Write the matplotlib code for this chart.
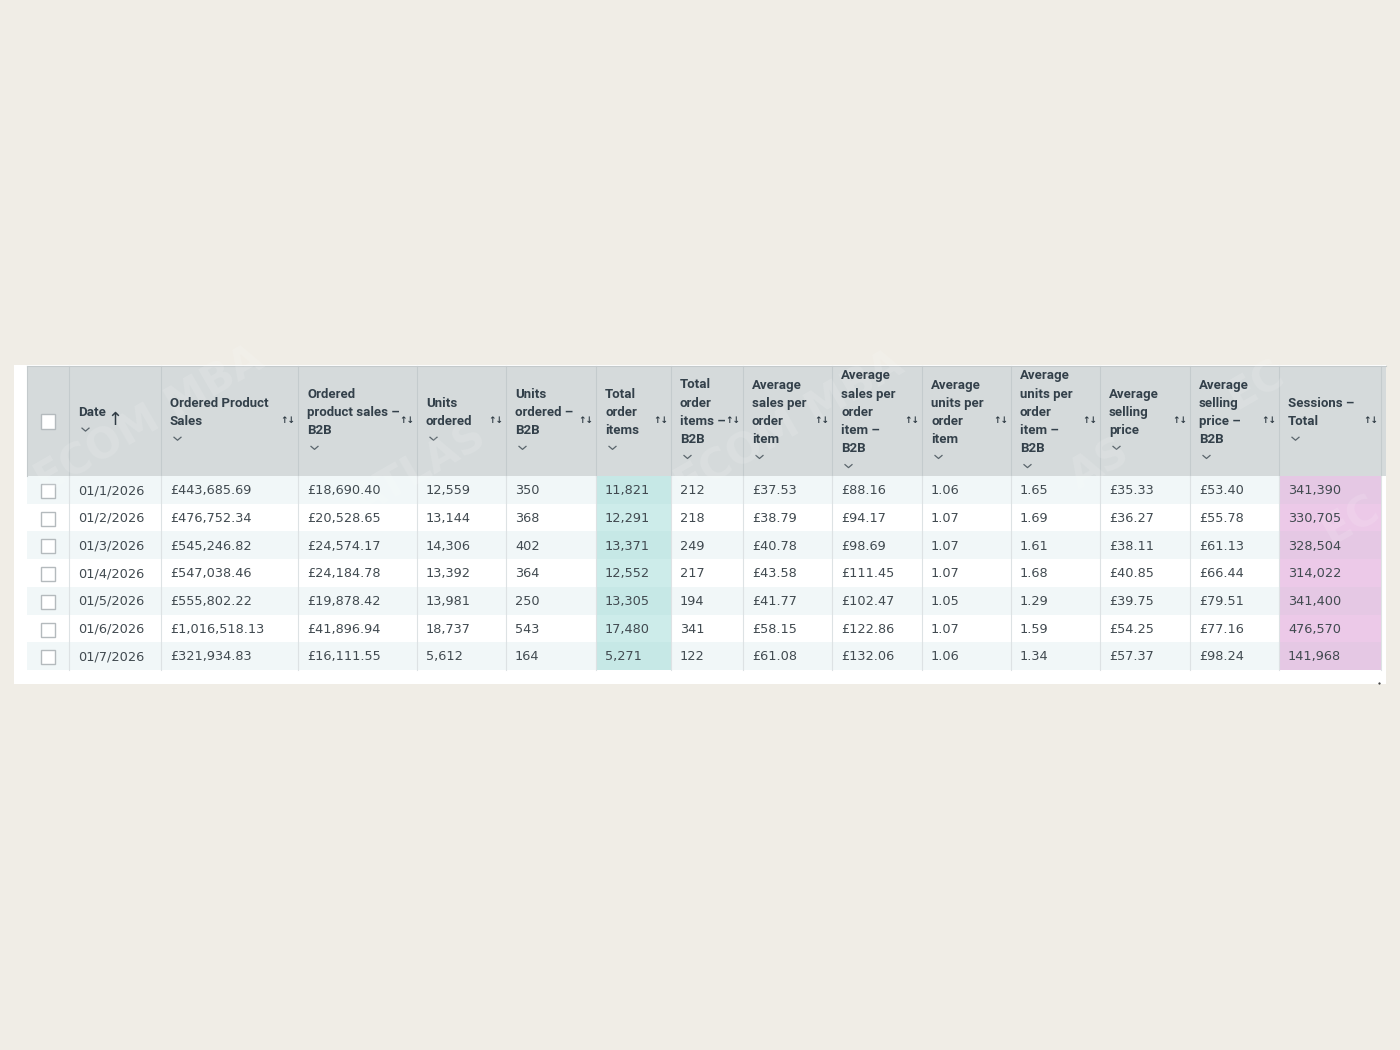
import matplotlib
matplotlib.use('Agg')
import matplotlib.pyplot as plt
from matplotlib.patches import Rectangle

plt.rcParams['font.family'] = ['DejaVu Sans']

headers = ['Date', 'Ordered Product\nSales', 'Ordered\nproduct sales –\nB2B', 'Units\nordered',
           'Units\nordered –\nB2B', 'Total\norder\nitems', 'Total\norder\nitems –\nB2B',
           'Average\nsales per\norder\nitem', 'Average\nsales per\norder\nitem –\nB2B',
           'Average\nunits per\norder\nitem', 'Average\nunits per\norder\nitem –\nB2B',
           'Average\nselling\nprice', 'Average\nselling\nprice –\nB2B', 'Sessions –\nTotal']

dates = ['01/1/2026', '01/2/2026', '01/3/2026', '01/4/2026', '01/5/2026', '01/6/2026', '01/7/2026']
sales = ['£443,685.69', '£476,752.34', '£545,246.82', '£547,038.46', '£555,802.22', '£1,016,518.13', '£321,934.83']
sales_b2b = ['£18,690.40', '£20,528.65', '£24,574.17', '£24,184.78', '£19,878.42', '£41,896.94', '£16,111.55']
units = ['12,559', '13,144', '14,306', '13,392', '13,981', '18,737', '5,612']
units_b2b = ['350', '368', '402', '364', '250', '543', '164']
order_items = ['11,821', '12,291', '13,371', '12,552', '13,305', '17,480', '5,271']
order_items_b2b = ['212', '218', '249', '217', '194', '341', '122']
avg_sales = ['£37.53', '£38.79', '£40.78', '£43.58', '£41.77', '£58.15', '£61.08']
avg_sales_b2b = ['£88.16', '£94.17', '£98.69', '£111.45', '£102.47', '£122.86', '£132.06']
avg_units = ['1.06', '1.07', '1.07', '1.07', '1.05', '1.07', '1.06']
avg_units_b2b = ['1.65', '1.69', '1.61', '1.68', '1.29', '1.59', '1.34']
avg_price = ['£35.33', '£36.27', '£38.11', '£40.85', '£39.75', '£54.25', '£57.37']
avg_price_b2b = ['£53.40', '£55.78', '£61.13', '£66.44', '£79.51', '£77.16', '£98.24']
sessions = ['341,390', '330,705', '328,504', '314,022', '341,400', '476,570', '141,968']

columns = [dates, sales, sales_b2b, units, units_b2b, order_items, order_items_b2b,
           avg_sales, avg_sales_b2b, avg_units, avg_units_b2b, avg_price, avg_price_b2b, sessions]

edges = [69, 161, 298, 417, 506, 596, 671, 743, 832, 922, 1011, 1100, 1190, 1279, 1381]
sort_x = [None, 288, 407, 496, 586, 661, 733, 822, 912, 1001, 1090, 1180, 1269, 1371]

fig = plt.figure(figsize=(14, 10.5), dpi=100, facecolor='#f0ede6')
ax = fig.add_axes([0, 0, 1, 1])
ax.set_xlim(0, 1400)
ax.set_ylim(1050, 0)
ax.axis('off')

top, head_bottom, row_h = 366, 476, 27.7
n_rows = len(dates)
table_bottom = head_bottom + n_rows * row_h

panel = Rectangle((14, 365), 1372, 319, fc='white', ec='none')
ax.add_patch(panel)
ax.add_patch(Rectangle((27, top), 1359, head_bottom - top, fc='#d5dadb', ec='none'))

for r in range(n_rows):
    y = head_bottom + r * row_h
    stripe = r % 2 == 0
    ax.add_patch(Rectangle((27, y), 1354, row_h, fc='#f1f7f8' if stripe else 'white', ec='none'))
    ax.add_patch(Rectangle((596, y), 75, row_h, fc='#c6e8e6' if stripe else '#cdecea', ec='none'))
    ax.add_patch(Rectangle((1279, y), 102, row_h, fc='#e5c8e4' if stripe else '#ecc9e8', ec='none'))
    ax.add_patch(Rectangle((41, y + 8), 14, 14, fc='white', ec='#b4babd', lw=1))

ax.add_patch(Rectangle((41, 414), 14, 15, fc='white', ec='#b4babd', lw=1))

for x in edges:
    ax.plot([x, x], [top, head_bottom], color='#c4cbcd', lw=0.8)
    ax.plot([x, x], [head_bottom, table_bottom], color='#dde2e4', lw=0.8)
ax.plot([27, 27], [top, head_bottom], color='#c4cacc', lw=0.8)
ax.plot([27, 1386], [top, top], color='#c4cacc', lw=0.8)

# watermark
for wx, wy, word, rot in [(150, 420, 'ECOM MBA', 30), (420, 470, 'ATLAS', 30), (790, 425, 'ECOM MBA', 30),
                          (1100, 465, 'AS', 30), (1255, 385, 'EC', 30), (1350, 520, 'EC', 30)]:
    t = ax.text(wx, wy, word, fontsize=30, fontweight='bold', color='white', alpha=0.13,
                rotation=rot, ha='center', va='center')
    t.set_clip_path(panel)

line_h = 18.25
for i, head in enumerate(headers):
    lines = head.split('\n')
    n = len(lines) + 1
    x = edges[i] + 9
    for j, t in enumerate(lines):
        ax.text(x, 421.5 + (j - (n - 1) / 2) * line_h, t, fontsize=9.5, fontweight='bold',
                family='Roboto', color='#33404a', ha='left', va='center')
    # chevron under the title
    cy = 420.5 + (n - 1) / 2 * line_h
    ax.plot([x + 4, x + 7.5, x + 11], [cy - 1.5, cy + 1.5, cy - 1.5], color='#5a656c', lw=0.9)
    if sort_x[i] is not None:
        ax.text(sort_x[i], 420.5, '↑↓', fontsize=6.5, fontweight='bold', color='#2f3b44',
                ha='center', va='center')

ax.text(115, 420, '↑', fontsize=13, color='#2f3b44', ha='center', va='center')

for i, col in enumerate(columns):
    for r, val in enumerate(col):
        ax.text(edges[i] + 9, head_bottom + (r + 0.5) * row_h + 0.8, val, fontsize=9.3,
                color='#414a50', ha='left', va='center')

ax.plot([1379], [683], marker='s', ms=0.6, color='#444444')

fig.savefig('out.png', dpi=100, facecolor=fig.get_facecolor())
